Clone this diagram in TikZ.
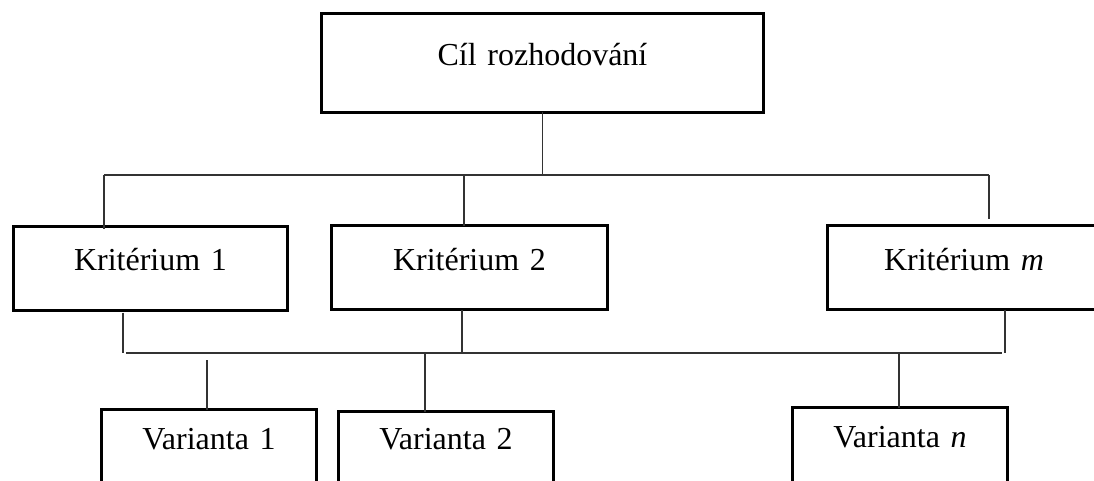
\documentclass[tikz,border=0pt]{standalone}
\usepackage{fontspec}
\setmainfont{Liberation Serif}
\begin{document}
\begin{tikzpicture}[x=1pt,y=-1pt,
  box/.style={draw=black,line width=3pt,rectangle,inner sep=0pt,outer sep=0pt,align=center,font=\fontsize{32}{38}\selectfont},
  conn/.style={draw=black!80,line width=1.3pt}]
\useasboundingbox (0,0) rectangle (1094,481);
\clip (0,0) rectangle (1094,481);

\node[box,text width=442pt,text height=52.5pt,text depth=46.5pt] (goal) at (542.5,63) {Cíl rozhodování};

\node[box,text width=274pt,text height=43.5pt,text depth=40.5pt] (k1) at (150.5,268.5) {Kritérium 1};
\node[box,text width=276pt,text height=44.5pt,text depth=39.5pt] (k2) at (469.5,267.5) {Kritérium 2};
\node[box,text width=273pt,text height=44.5pt,text depth=39.5pt] (km) at (964,267.5) {Kritérium \textit{m}};

\node[box,text width=215pt,text height=39.5pt,text depth=60pt] (v1) at (209,459.25) {Varianta 1};
\node[box,text width=215pt,text height=37.5pt,text depth=60pt] (v2) at (446,460.25) {Varianta 2};
\node[box,text width=215pt,text height=39.5pt,text depth=60pt] (vn) at (900,457.25) {Varianta \textit{n}};

% upper bus
\coordinate (d1) at (104,175);
\coordinate (d2) at (464,175);
\coordinate (d3) at (989,175);
\draw[conn] (goal.south) -- (goal.south |- d1);
\draw[conn] (d1) -- (d3);
\draw[conn] (d1) -- ([yshift=-2pt]d1 |- k1.north);
\draw[conn] (d2) -- (d2 |- k2.north);
\draw[conn] (d3) -- ([yshift=7pt]d3 |- km.north);

% lower bus
\coordinate (e1) at (123,353);
\coordinate (e2) at (462,353);
\coordinate (e3) at (1005,353);
\draw[conn] ([yshift=-2pt]k1.south -| e1) -- (e1);
\draw[conn] ([xshift=3pt]e1) -- ([xshift=-3pt]e3);
\draw[conn] (k2.south -| e2) -- (e2);
\draw[conn] (km.south -| e3) -- (e3);

\coordinate (f1) at (207,360);
\coordinate (f2) at (425,353);
\coordinate (f3) at (899,353);
\draw[conn] (f1) -- (f1 |- v1.north);
\draw[conn] (f2) -- (f2 |- v2.north);
\draw[conn] (f3) -- (f3 |- vn.north);
\end{tikzpicture}
\end{document}
